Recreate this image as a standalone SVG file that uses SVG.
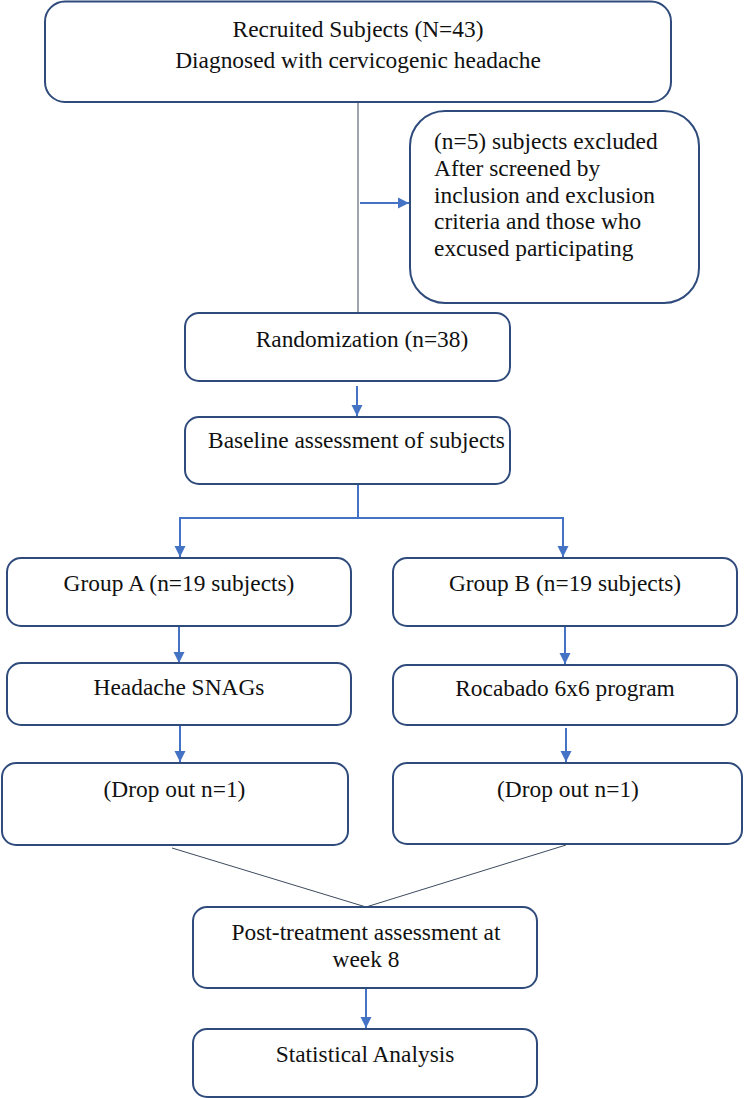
<svg xmlns="http://www.w3.org/2000/svg" width="744" height="1098" viewBox="0 0 744 1098">
<style>
.box{fill:#fff;stroke:#2f4b7c;stroke-width:2}
.t{font-family:"Liberation Serif","Tinos","Times New Roman",serif;font-size:23.4px;fill:#111}
.c{text-anchor:middle}
.arr{stroke:#4472c4;stroke-width:2;fill:none;marker-end:url(#ah)}
.blue{stroke:#4472c4;stroke-width:2;fill:none}
.thin{stroke:#3d4a5e;stroke-width:1;fill:none}
</style>
<defs>
<marker id="ah" markerUnits="userSpaceOnUse" markerWidth="12" markerHeight="12" viewBox="0 0 12 12" refX="11" refY="6" orient="auto">
<path d="M0,0.5 L11,6 L0,11.5 z" fill="#4472c4"/>
</marker>
</defs>
<rect width="744" height="1098" fill="#fff"/>
<g id="connectors">
<line class="thin" x1="358" y1="102" x2="358" y2="313"/>
<line class="arr" x1="360" y1="203" x2="409" y2="203"/>
<line class="arr" x1="357" y1="386" x2="357" y2="416"/>
<line class="blue" x1="358" y1="484" x2="358" y2="518"/>
<line class="blue" x1="179" y1="518" x2="564" y2="518"/>
<line class="arr" x1="180" y1="518" x2="180" y2="557"/>
<line class="arr" x1="563" y1="518" x2="563" y2="557"/>
<line class="arr" x1="179" y1="627" x2="179" y2="663"/>
<line class="arr" x1="565" y1="627" x2="565" y2="664"/>
<line class="arr" x1="180" y1="725" x2="180" y2="762"/>
<line class="arr" x1="566" y1="728" x2="566" y2="762"/>
<line class="thin" x1="172" y1="848" x2="366" y2="907"/>
<line class="thin" x1="566" y1="845" x2="366" y2="907"/>
<line class="arr" x1="366" y1="988" x2="366" y2="1028"/>
</g>
<g id="recruited">
<rect class="box" x="45" y="1.5" width="626" height="100.5" rx="20"/>
<text class="t c" x="358" y="37">Recruited Subjects (N=43)</text>
<text class="t c" x="358" y="68">Diagnosed with cervicogenic headache</text>
</g>
<g id="excluded">
<rect class="box" x="410" y="111" width="289" height="192" rx="35"/>
<text class="t" x="434" y="149">(n=5) subjects excluded</text>
<text class="t" x="434" y="176">After screened by</text>
<text class="t" x="434" y="203">inclusion and exclusion</text>
<text class="t" x="434" y="229">criteria and those who</text>
<text class="t" x="434" y="256">excused participating</text>
</g>
<g id="randomization">
<rect class="box" x="185" y="313" width="325" height="68" rx="14"/>
<text class="t c" x="362" y="347">Randomization (n=38)</text>
</g>
<g id="baseline">
<rect class="box" x="185" y="417" width="325" height="67" rx="14"/>
<text class="t c" x="356.5" y="448">Baseline assessment of subjects</text>
</g>
<g id="groupA">
<rect class="box" x="7" y="558" width="344" height="68" rx="14"/>
<text class="t c" x="179" y="591">Group A (n=19 subjects)</text>
</g>
<g id="groupB">
<rect class="box" x="393" y="558" width="344" height="68" rx="14"/>
<text class="t c" x="565" y="591">Group B (n=19 subjects)</text>
</g>
<g id="snags">
<rect class="box" x="7" y="663" width="344" height="62" rx="14"/>
<text class="t c" x="179" y="695">Headache SNAGs</text>
</g>
<g id="rocabado">
<rect class="box" x="393" y="665" width="344" height="60" rx="14"/>
<text class="t c" x="565" y="696">Rocabado 6x6 program</text>
</g>
<g id="dropA">
<rect class="box" x="2" y="763" width="346" height="82" rx="14"/>
<text class="t c" x="174.5" y="797">(Drop out n=1)</text>
</g>
<g id="dropB">
<rect class="box" x="393" y="763" width="349" height="81" rx="14"/>
<text class="t c" x="568" y="797">(Drop out n=1)</text>
</g>
<g id="post">
<rect class="box" x="193" y="907" width="344" height="81" rx="14"/>
<text class="t c" x="366" y="940">Post-treatment assessment at</text>
<text class="t c" x="366" y="967">week 8</text>
</g>
<g id="stats">
<rect class="box" x="193" y="1029" width="344" height="68" rx="14"/>
<text class="t c" x="365" y="1062">Statistical Analysis</text>
</g>
</svg>
